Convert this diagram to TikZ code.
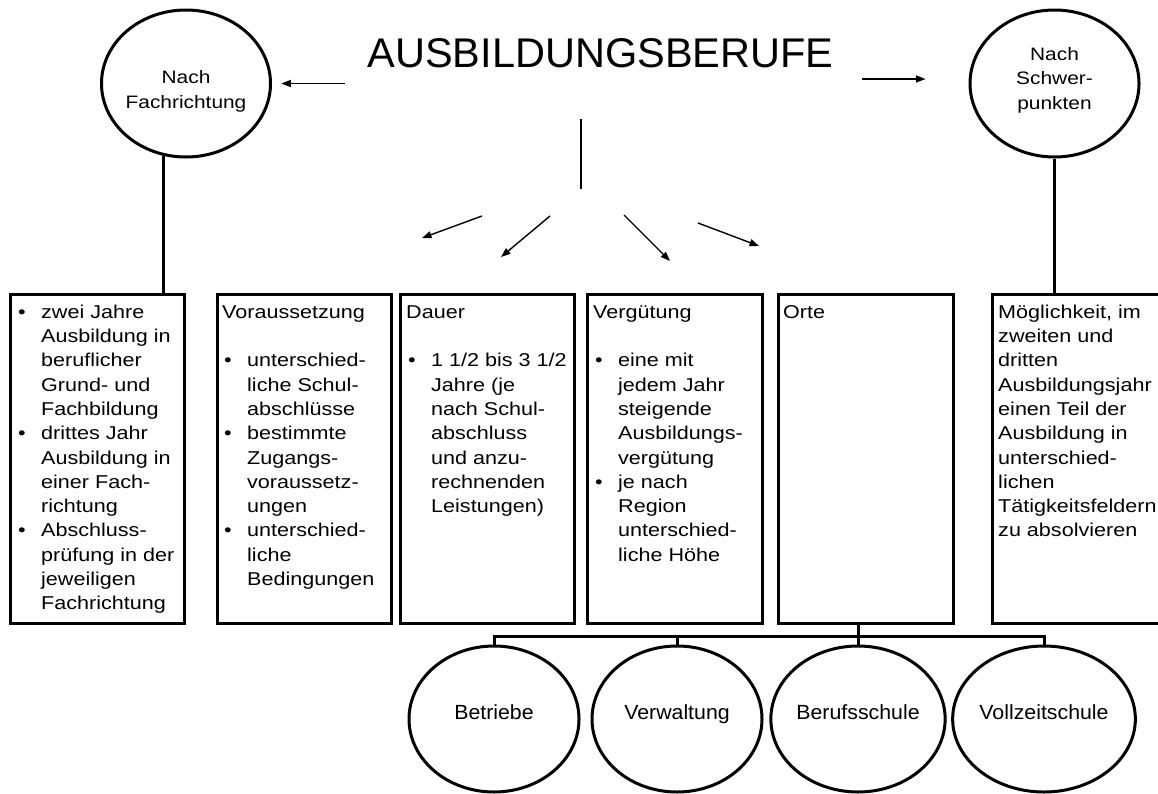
\documentclass[tikz,border=0pt]{standalone}
\usepackage{fontspec}
\setmainfont{Liberation Sans}[FakeStretch=1.16]
\newfontfamily\TitelFont{Liberation Sans}
\newfontfamily\OrtFont{Liberation Sans}[FakeStretch=1.04]
\usetikzlibrary{arrows.meta,calc,shapes.geometric}

\begin{document}
\begin{tikzpicture}[x=1pt,y=-1pt,
  Kasten/.style={draw,line width=3.3pt,minimum width=174pt,minimum height=329pt,inner sep=0pt,anchor=north west},
  Inhalt/.style={anchor=north west,inner sep=0pt,align=left,font=\fontsize{18.6}{24.3}\selectfont},
  Kreis/.style={draw,ellipse,line width=3pt,minimum width=169pt,minimum height=147pt,inner sep=0pt},
  Kreistext/.style={align=center,inner sep=0pt,font=\fontsize{18}{24.7}\selectfont},
  Ort/.style={draw,ellipse,line width=3pt,minimum width=170pt,minimum height=146pt,inner sep=0pt,text height=8pt,text depth=8pt,font=\OrtFont\fontsize{20.5}{24}\selectfont},
  Pfeil/.style={-{Triangle[length=9.5pt,width=7pt]},line width=1.4pt},
  Linie/.style={line width=3pt}]
\newcommand{\Pkt}{\hspace*{2pt}\makebox[23pt][l]{\textbullet}}
\newcommand{\Ein}{\hspace*{25pt}}

\useasboundingbox (0,0) rectangle (1158,793);

\node[anchor=base,inner sep=0pt,font=\TitelFont\fontsize{41.5}{48}\selectfont] (titel) at (600.5,67) {AUSBILDUNGSBERUFE};

\node[Kreis,label={[Kreistext,yshift=-7.5pt]center:{Nach\\Fachrichtung}}] (fach) at (186,83.5) {};
\node[Kreis,label={[Kreistext,yshift=3.4pt]center:{Nach\\Schwer-\\punkten}}] (schwer) at (1054.5,83.5) {};

\node[Kasten] (b1) at (9,293) {};
\node[Kasten,minimum width=174pt] (b2) at (216,293) {};
\node[Kasten] (b3) at (399,293) {};
\node[Kasten,minimum width=175pt] (b4) at (586,293) {};
\node[Kasten,minimum width=175pt] (b5) at (777,293) {};
\node[Kasten,minimum width=175pt] (b6) at (991,293) {};

\node[Inhalt] (t1) at ($(b1.north west)+(7,8)$) {\strut\Pkt zwei Jahre\\
\Ein Ausbildung in\\
\Ein beruflicher\\
\Ein Grund- und\\
\Ein Fachbildung\\
\Pkt drittes Jahr\\
\Ein Ausbildung in\\
\Ein einer Fach-\\
\Ein richtung\\
\Pkt Abschluss-\\
\Ein prüfung in der\\
\Ein jeweiligen\\
\Ein Fachrichtung};

\node[Inhalt] (t2) at ($(b2.north west)+(6,8)$) {\strut Voraussetzung\\
\mbox{}\\
\Pkt unterschied-\\
\Ein liche Schul-\\
\Ein abschlüsse\\
\Pkt bestimmte\\
\Ein Zugangs-\\
\Ein voraussetz-\\
\Ein ungen\\
\Pkt unterschied-\\
\Ein liche\\
\Ein Bedingungen};

\node[Inhalt] (t3) at ($(b3.north west)+(7,8)$) {\strut Dauer\\
\mbox{}\\
\Pkt 1 1/2 bis 3 1/2\\
\Ein Jahre (je\\
\Ein nach Schul-\\
\Ein abschluss\\
\Ein und anzu-\\
\Ein rechnenden\\
\Ein Leistungen)};

\node[Inhalt] (t4) at ($(b4.north west)+(7,8)$) {\strut Vergütung\\
\mbox{}\\
\Pkt eine mit\\
\Ein jedem Jahr\\
\Ein steigende\\
\Ein Ausbildungs-\\
\Ein vergütung\\
\Pkt je nach\\
\Ein Region\\
\Ein unterschied-\\
\Ein liche Höhe};

\node[Inhalt] (t5) at ($(b5.north west)+(6,8)$) {\strut Orte};

\node[Inhalt] (t6) at ($(b6.north west)+(7,8)$) {\strut Möglichkeit, im\\
zweiten und\\
dritten\\
Ausbildungsjahr\\
einen Teil der\\
Ausbildung in\\
unterschied-\\
lichen\\
Tätigkeitsfeldern\\
zu absolvieren};

\node[Ort] (betr) at (494,719) {Betriebe};
\node[Ort] (verw) at (677,719) {Verwaltung};
\node[Ort] (beruf) at (858,719) {Berufsschule};
\node[Ort] (voll) at (1044,719) {Vollzeitschule};

\coordinate (links) at (345,83.5);
\coordinate (rechts) at (862,79);
\coordinate (fuss) at (581,189);
\coordinate (bus) at (0,636);

\draw[Pfeil,shorten >=9.3pt] (links) -- (fach.east);
\draw[Pfeil,shorten >=43pt] (rechts) -- (rechts -| schwer.west);

\draw[line width=2.5pt] (fuss) -- ++(0,-70);

\draw[Pfeil] ($(fuss)+(-99,27)$) -- ($(fuss)+(-159,49)$);
\draw[Pfeil] ($(fuss)+(-31,27)$) -- ($(fuss)+(-80,68)$);
\draw[Pfeil] ($(fuss)+(43,26)$) -- ($(fuss)+(89,72)$);
\draw[Pfeil] ($(fuss)+(117,34)$) -- ($(fuss)+(178,57)$);

\draw[Linie] (fach.253.6) -- (fach.253.6 |- b1.north);
\draw[Linie] (schwer.south) -- (schwer.south |- b6.north);

\draw[Linie] (betr.north) -- (betr.north |- bus) -- (voll.north |- bus) -- (voll.north);
\draw[Linie] (verw.north) -- (verw.north |- bus);
\draw[Linie] (b5.south -| beruf.north) -- (beruf.north);

\end{tikzpicture}
\end{document}
